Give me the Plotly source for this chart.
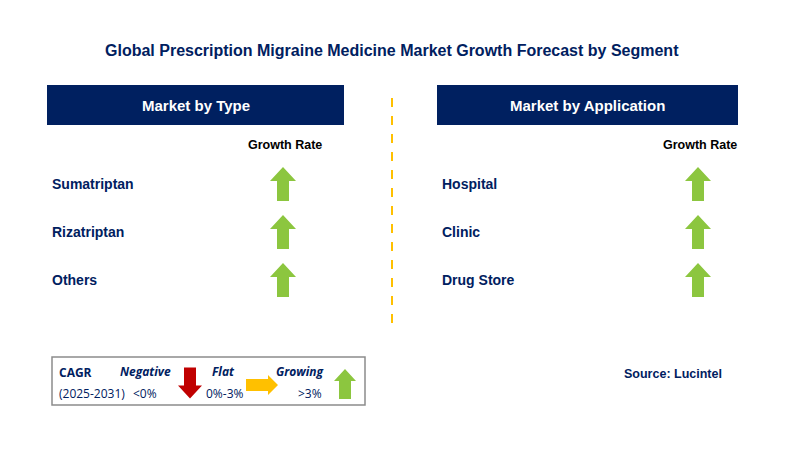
import plotly.graph_objects as go

title = "Global Prescription Migraine Medicine Market Growth Forecast by Segment"
type_labels = ["Sumatriptan", "Rizatriptan", "Others"]
type_growth = ["up", "up", "up"]
app_labels = ["Hospital", "Clinic", "Drug Store"]
app_growth = ["up", "up", "up"]
source = "Source: Lucintel"

NAVY = "#002060"
GREEN = "#8CC63F"
RED = "#C00000"
YELLOW = "#FFC000"
FONT = "Liberation Sans"


def arrow_path(cx, cy, kind, h=34, hw=13, sw=6, hh=14):
    # arrow centred on (cx, cy); y axis points down
    if kind == "up":
        t, b = cy - h / 2, cy + h / 2
        pts = [(cx, t), (cx + hw, t + hh), (cx + sw, t + hh), (cx + sw, b),
               (cx - sw, b), (cx - sw, t + hh), (cx - hw, t + hh)]
    elif kind == "down":
        t, b = cy - h / 2, cy + h / 2
        pts = [(cx, b), (cx + hw, b - hh), (cx + sw, b - hh), (cx + sw, t),
               (cx - sw, t), (cx - sw, b - hh), (cx - hw, b - hh)]
    else:
        l, r = cx - h / 2, cx + h / 2
        pts = [(r, cy), (r - hh, cy - hw), (r - hh, cy - sw), (l, cy - sw),
               (l, cy + sw), (r - hh, cy + sw), (r - hh, cy + hw)]
    return "M " + " L ".join(f"{x},{y}" for x, y in pts) + " Z"


colors = {"up": GREEN, "down": RED, "flat": YELLOW}

fig = go.Figure()
shapes = []
ann = []

ann.append(dict(x=392, y=50, text=f"<b>{title}</b>", font=dict(size=16, color=NAVY, family=FONT)))

panels = [(47, 344, 283, "Market by Type", type_labels, type_growth),
          (437, 738, 698, "Market by Application", app_labels, app_growth)]
for x0, x1, ax, head, labels, growth in panels:
    shapes.append(dict(type="rect", x0=x0, x1=x1, y0=85, y1=125, fillcolor=NAVY, line_width=0))
    ann.append(dict(x=(x0 + x1) / 2, y=105, text=f"<b>{head}</b>",
                    font=dict(size=15, color="white", family=FONT)))
    ann.append(dict(x=ax + 2, y=145, text="<b>Growth Rate</b>",
                    font=dict(size=12.5, color="black", family=FONT)))
    for i, (lab, g) in enumerate(zip(labels, growth)):
        y = 184 + 48 * i
        ann.append(dict(x=x0 + 3, y=y, text=f"<b>{lab}</b>", xanchor="left",
                        font=dict(size=14, color=NAVY, family=FONT)))
        shapes.append(dict(type="path", path=arrow_path(ax, y, g), fillcolor=colors[g], line_width=0))

shapes.append(dict(type="line", x0=392, x1=392, y0=98, y1=330,
                   line=dict(color="#FFC000", width=2, dash="dash")))

# legend box
shapes.append(dict(type="rect", x0=52, x1=365, y0=357, y1=405, line=dict(color="#8C8C8C", width=1.5),
                   fillcolor="white"))
lf = dict(family="Open Sans", color=NAVY)
ann += [
    dict(x=57, y=372, text="<b>CAGR</b>", xanchor="left", font=dict(size=12, **lf)),
    dict(x=57, y=393, text="(2025-2031)", xanchor="left", font=dict(size=12, **lf)),
    dict(x=145, y=371, text="<b><i>Negative</i></b>", font=dict(size=12, **lf)),
    dict(x=145, y=393, text="<0%", font=dict(size=12, **lf)),
    dict(x=223, y=371, text="<b><i>Flat</i></b>", font=dict(size=12, **lf)),
    dict(x=225, y=393, text="0%-3%", font=dict(size=12, **lf)),
    dict(x=300, y=371, text="<b><i>Growing</i></b>", font=dict(size=12, **lf)),
    dict(x=310, y=393, text=">3%", font=dict(size=12, **lf)),
    dict(x=673, y=374, text="<b>Source: Lucintel</b>", font=dict(size=12.5, color=NAVY, family=FONT)),
]
shapes.append(dict(type="path", path=arrow_path(190, 383, "down", h=31, hw=12, sw=6, hh=13), fillcolor=RED, line_width=0))
shapes.append(dict(type="path", path=arrow_path(262, 385, "flat", h=32, hw=10, sw=6, hh=10), fillcolor=YELLOW, line_width=0))
shapes.append(dict(type="path", path=arrow_path(345, 384, "up", h=30, hw=11, sw=6, hh=12), fillcolor=GREEN, line_width=0))

for a in ann:
    a.setdefault("xanchor", "center")
    a.update(xref="x", yref="y", showarrow=False, yanchor="middle")

# page body adds an 8px offset, so the axis window is shifted to compensate
fig.update_layout(width=786, height=458, margin=dict(l=0, r=0, t=0, b=0),
                  plot_bgcolor="white", paper_bgcolor="white", showlegend=False,
                  shapes=shapes, annotations=ann,
                  xaxis=dict(range=[8, 794], visible=False, fixedrange=True),
                  yaxis=dict(range=[466, 8], visible=False, fixedrange=True))
fig.write_html("out.html")
